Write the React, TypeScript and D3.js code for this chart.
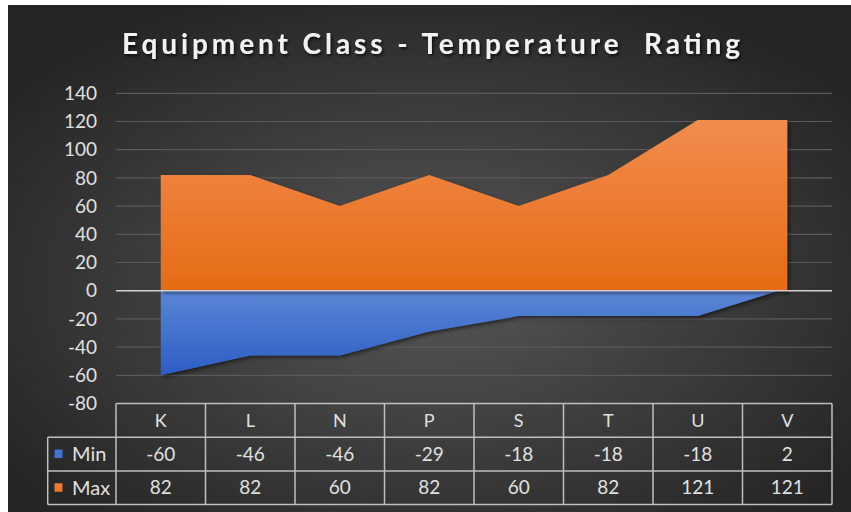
import React from "react";
import * as d3 from "d3";

// ── Data ─────────────────────────────────────────────────────────────────────

const CATEGORIES = ["K", "L", "N", "P", "S", "T", "U", "V"];
const MIN_VALUES = [-60, -46, -46, -29, -18, -18, -18, 2];
const MAX_VALUES = [82, 82, 60, 82, 60, 82, 121, 121];
const Y_TICKS = [-80, -60, -40, -20, 0, 20, 40, 60, 80, 100, 120, 140];

// ── Layout ───────────────────────────────────────────────────────────────────

const W = 851;
const H = 512;
const PLOT = { left: 116, right: 832, top: 93.3, bottom: 403.5 };
const ROW_H = 33.7;
const LEGEND_LEFT = 47.7;
const FONT = "Lato, 'Open Sans', sans-serif";
const TEXT = "#e0e0e0";
const GRID = "#5a5a5a";
const TABLE_LINE = "#bfbfbf";

const SERIES = [
  { name: "Min", values: MIN_VALUES, grad: "gradMin", swatch: "#3f72d6" },
  { name: "Max", values: MAX_VALUES, grad: "gradMax", swatch: "#ef7a2b" },
];

export default function App() {
  const x = d3.scaleBand<string>().domain(CATEGORIES).range([PLOT.left, PLOT.right]);
  const y = d3.scaleLinear().domain([-80, 140]).range([PLOT.bottom, PLOT.top]);
  const cx = (c: string) => (x(c) ?? 0) + x.bandwidth() / 2;

  const area = d3
    .area<number>()
    .x((_, i) => cx(CATEGORIES[i]))
    .y0(y(0))
    .y1((d) => y(d));

  const headTop = PLOT.bottom;
  const rowsTop = headTop + ROW_H;
  const tableBottom = headTop + ROW_H * 3;

  return (
    <div style={{ position: "absolute", left: 0, top: 0 }}>
      <svg width={W} height={H} style={{ display: "block" }}>
        <defs>
          <radialGradient id="bg" cx="50%" cy="55%" r="62%">
            <stop offset="0%" stopColor="#575757" />
            <stop offset="100%" stopColor="#252525" />
          </radialGradient>
          <linearGradient id="gradMax" x1="0" y1="0" x2="0" y2="1">
            <stop offset="0%" stopColor="#f28c4e" />
            <stop offset="100%" stopColor="#e56b15" />
          </linearGradient>
          <linearGradient id="gradMin" x1="0" y1="0" x2="0" y2="1">
            <stop offset="0%" stopColor="#5b87d6" />
            <stop offset="100%" stopColor="#2c5ec4" />
          </linearGradient>
          <filter id="shadow" x="-10%" y="-10%" width="130%" height="130%">
            <feDropShadow dx="2" dy="2" stdDeviation="2" floodColor="#000" floodOpacity="0.55" />
          </filter>
          <filter id="titleShadow" x="-5%" y="-30%" width="110%" height="160%">
            <feDropShadow dx="1.5" dy="2" stdDeviation="1.5" floodColor="#000" floodOpacity="0.7" />
          </filter>
        </defs>

        <rect x={0} y={0} width={W} height={H} fill="#fff" />
        <rect x={8} y={5} width={W - 8} height={H - 5} fill="url(#bg)" />

        {/* Title */}
        <text
          x={431}
          y={54}
          textAnchor="middle"
          fontFamily={FONT}
          fontWeight={700}
          fontSize={28}
          fill="#f2f2f2"
          textLength={618}
          lengthAdjust="spacing"
          filter="url(#titleShadow)"
          style={{ whiteSpace: "pre" }}
        >
          {"Equipment Class - Temperature  Rating"}
        </text>

        {/* Gridlines */}
        {Y_TICKS.filter((t) => t !== 0 && t !== -80).map((t) => (
          <line key={t} x1={PLOT.left} x2={PLOT.right} y1={y(t)} y2={y(t)} stroke={GRID} strokeWidth={1.2} />
        ))}

        {/* Y tick labels */}
        {Y_TICKS.map((t) => (
          <text
            key={t}
            x={97}
            y={y(t)}
            dy="0.35em"
            textAnchor="end"
            fontFamily={FONT}
            fontSize={19}
            fill={TEXT}
          >
            {t}
          </text>
        ))}

        {/* Areas */}
        {SERIES.map((s) => (
          <path key={s.name} d={area(s.values) ?? ""} fill={`url(#${s.grad})`} filter="url(#shadow)" />
        ))}

        {/* Zero line */}
        <line x1={PLOT.left} x2={PLOT.right} y1={y(0)} y2={y(0)} stroke="#d0d0d0" strokeWidth={1.5} />

        {/* Data table */}
        <g stroke={TABLE_LINE} strokeWidth={1.5} fill="none">
          <line x1={PLOT.left} x2={PLOT.right} y1={headTop} y2={headTop} />
          <line x1={LEGEND_LEFT} x2={PLOT.right} y1={rowsTop} y2={rowsTop} />
          <line x1={LEGEND_LEFT} x2={PLOT.right} y1={rowsTop + ROW_H} y2={rowsTop + ROW_H} />
          <line x1={LEGEND_LEFT} x2={PLOT.right} y1={tableBottom} y2={tableBottom} />
          <line x1={LEGEND_LEFT} x2={LEGEND_LEFT} y1={rowsTop} y2={tableBottom} />
          {CATEGORIES.map((c) => (
            <line key={c} x1={x(c) ?? 0} x2={x(c) ?? 0} y1={headTop} y2={tableBottom} />
          ))}
          <line x1={PLOT.right} x2={PLOT.right} y1={headTop} y2={tableBottom} />
        </g>

        {CATEGORIES.map((c) => (
          <text
            key={c}
            x={cx(c)}
            y={headTop + ROW_H / 2}
            dy="0.35em"
            textAnchor="middle"
            fontFamily={FONT}
            fontSize={18}
            fill={TEXT}
          >
            {c}
          </text>
        ))}

        {SERIES.map((s, r) => {
          const rowMid = rowsTop + ROW_H * r + ROW_H / 2;
          return (
            <g key={s.name}>
              <rect x={54.5} y={rowMid - 4.5} width={8} height={8.5} fill={s.swatch} />
              <text x={72} y={rowMid} dy="0.35em" fontFamily={FONT} fontSize={20} fill={TEXT}>
                {s.name}
              </text>
              {s.values.map((v, i) => (
                <text
                  key={i}
                  x={cx(CATEGORIES[i])}
                  y={rowMid}
                  dy="0.35em"
                  textAnchor="middle"
                  fontFamily={FONT}
                  fontSize={19}
                  fill={TEXT}
                >
                  {v}
                </text>
              ))}
            </g>
          );
        })}
      </svg>
    </div>
  );
}
